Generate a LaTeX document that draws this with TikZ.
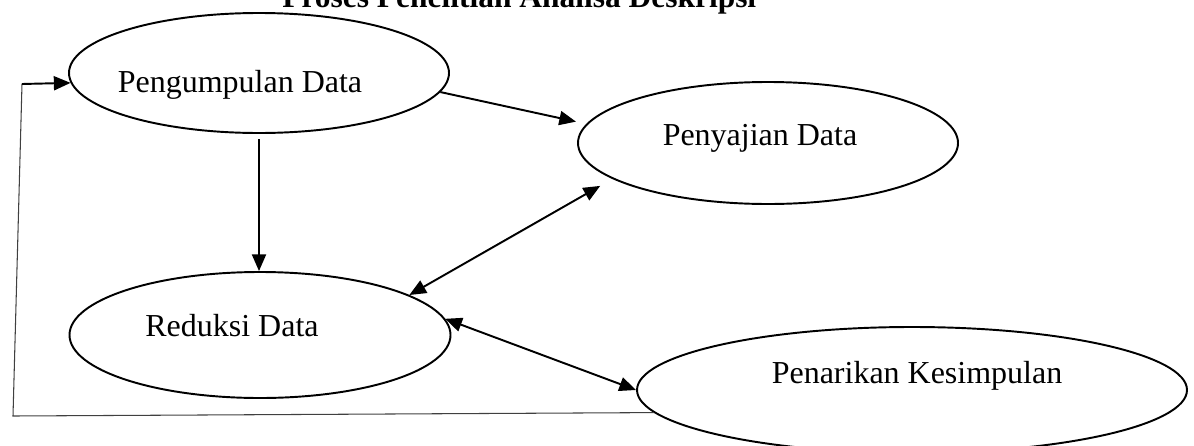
\documentclass[tikz,border=0pt]{standalone}
\usepackage{fontspec}
\setmainfont{Liberation Serif}
\usetikzlibrary{shapes.geometric,arrows.meta}

\begin{document}
\begin{tikzpicture}[x=0.2mm, y=0.2mm]
    \tikzstyle{every node}+=[inner sep=0pt]
    \tikzstyle{ell}=[draw=black, ellipse, line width=1.1pt]
    \tikzstyle{lbl}=[anchor=base, font=\fontsize{18.2}{22}\selectfont]
    \tikzstyle{arr}=[black, line width=1.1pt, -{Triangle[length=9.5pt,width=8pt]}]
    \tikzstyle{darr}=[arr, {Triangle[length=9.5pt,width=8pt]}-{Triangle[length=9.5pt,width=8pt]}]
    \useasboundingbox (0,0) rectangle (1194,-445);
    \node[lbl, anchor=base west, font=\fontsize{17.9}{22}\selectfont\bfseries] (title) at (282,-7) {Proses Penelitian Analisa Deskripsi};
    \node[ell, minimum width=76mm, minimum height=24mm] (pd) at (259,-73) {};
    \node[lbl] (pdl) at (240,-92) {Pengumpulan Data};
    \node[ell, minimum width=76mm, minimum height=24.4mm] (pj) at (768,-143) {};
    \node[lbl] (pjl) at (760,-145) {Penyajian Data};
    \node[ell, minimum width=76.2mm, minimum height=25.2mm] (rd) at (260,-335) {};
    \node[lbl] (rdl) at (232,-336) {Reduksi Data};
    \node[ell, minimum width=110mm, minimum height=25.2mm] (pk) at (912,-390) {};
    \node[lbl] (pkl) at (917,-383) {Penarikan Kesimpulan};
    \coordinate (fbl) at (13,-416);
    \coordinate (ftl) at (22,-84);
    \draw[arr, shorten >=6pt] (pd.-6) -- (pj.174);
    \draw[arr, shorten <=3pt] (pd.south) -- (pd.south |- rd.north);
    \draw[darr, shorten >=8pt] (rd.15) -- (pj.193);
    \draw[darr] (rd.5) -- (pk.180);
    \draw[black!75, line width=0.6pt] (pk.185) -- (fbl) -- (ftl);
    \draw[arr] (ftl) -- (pd.183);
\end{tikzpicture}
\end{document}
